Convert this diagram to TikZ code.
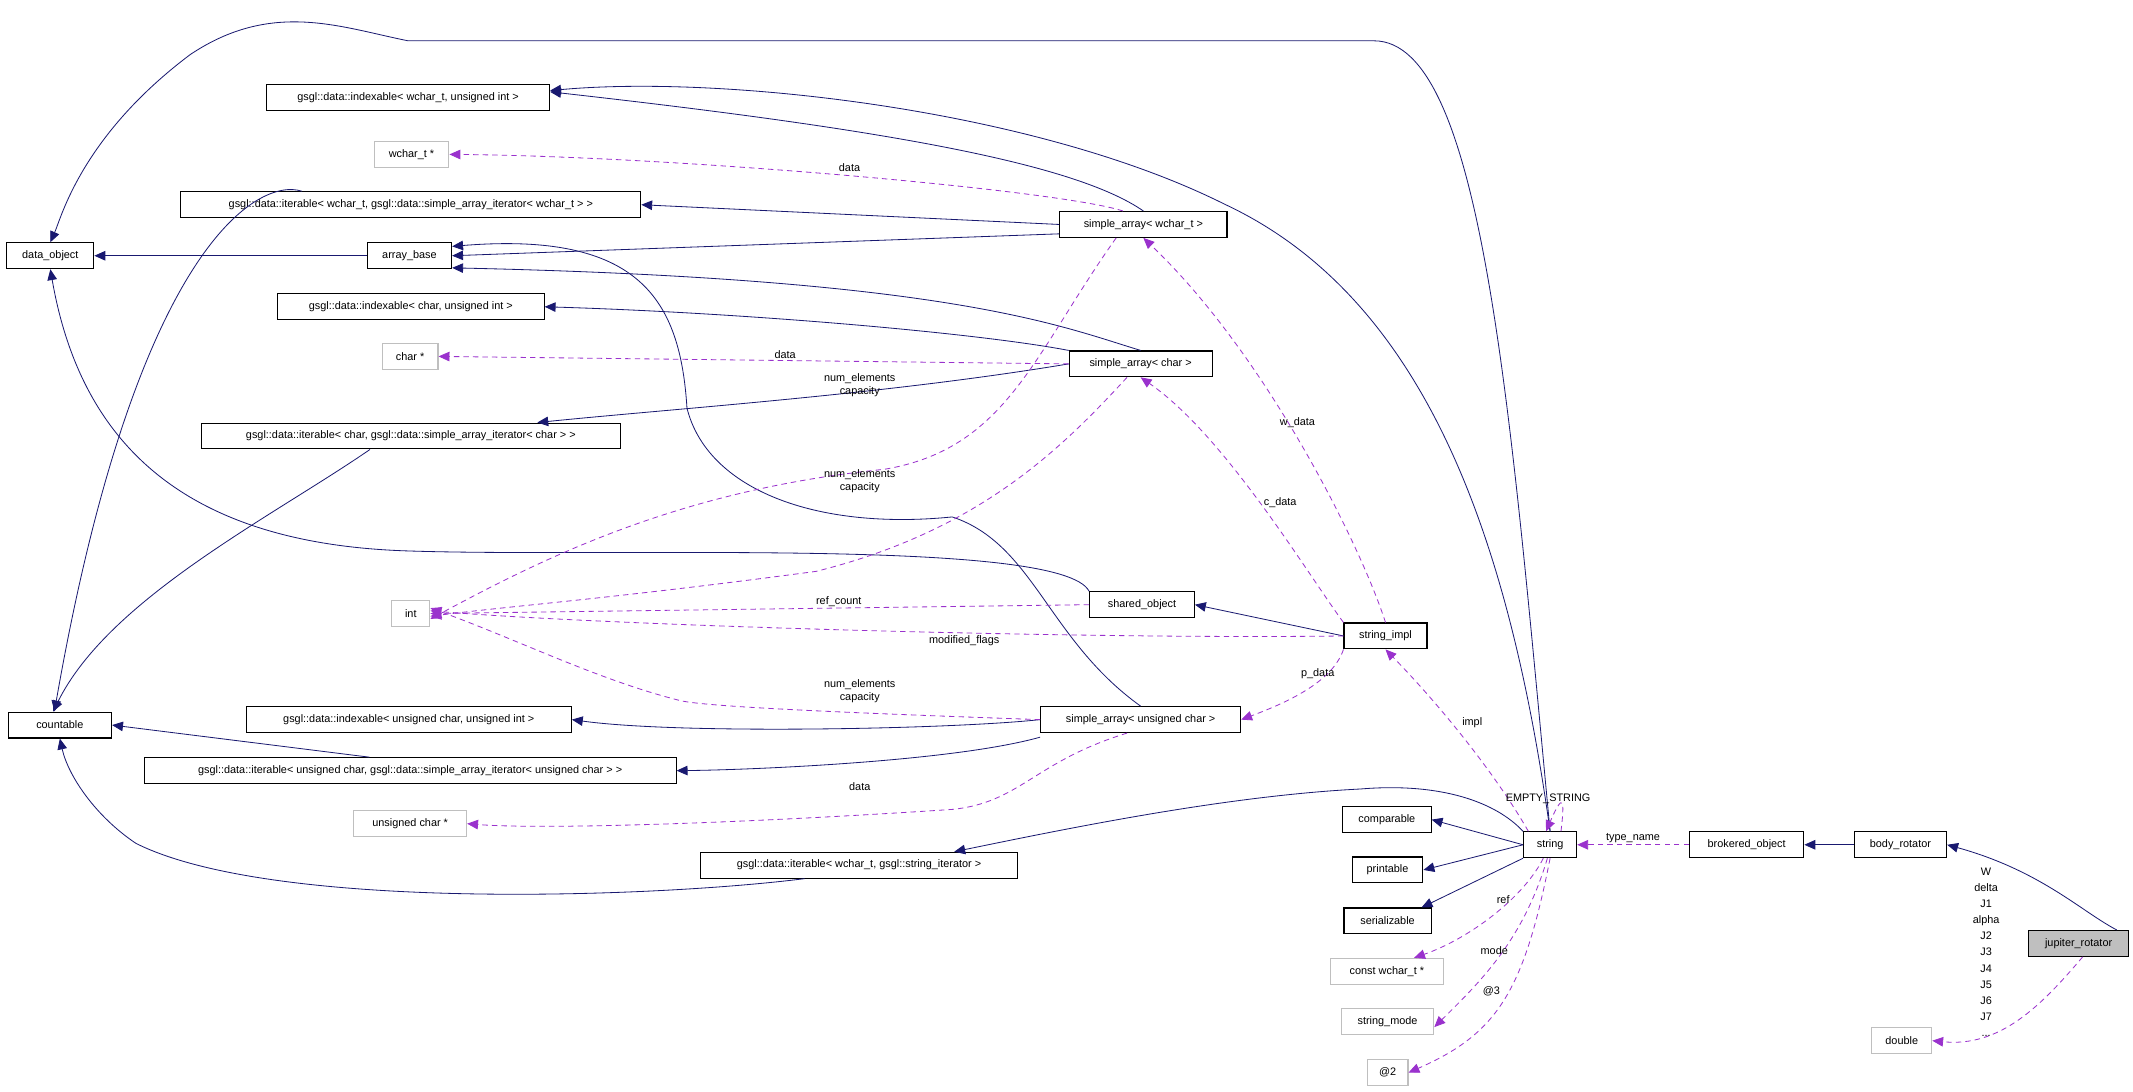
\documentclass[tikz,border=0pt]{standalone}
\usepackage{fontspec}
\setmainfont{Liberation Sans}
\usetikzlibrary{arrows.meta}
\definecolor{eblue}{HTML}{191970}
\definecolor{epurp}{HTML}{9A32CD}
\definecolor{gbord}{HTML}{BFBFBF}
\begin{document}
\begin{tikzpicture}[x=1pt,y=-1pt,
  B/.style={draw=black,thick,minimum height=19pt,inner sep=1pt,font=\fontsize{8}{9}\selectfont},
  G/.style={draw=gbord,thick,minimum height=19pt,inner sep=1pt,font=\fontsize{8}{9}\selectfont},
  inh/.style={eblue,semithick,-{Triangle[length=8pt,width=7pt]}},
  use/.style={epurp,semithick,dashed,dash pattern=on 4pt off 3pt,-{Triangle[length=8pt,width=7pt]}},
  lab/.style={font=\fontsize{8}{9.6}\selectfont,align=center,inner sep=0pt,text=black}]
\useasboundingbox (0,0) rectangle (1568,802.7);
\fill[white] (0,0) rectangle (1568,802.7);
% nodes
\node[B,minimum width=208] (idxw) at (300,71.5) {gsgl::data::indexable< wchar\_t, unsigned int >};
\node[G,minimum width=55] (wcp) at (302.5,113.5) {wchar\_t *};
\node[B,minimum width=338] (itw) at (302,150.5) {gsgl::data::iterable< wchar\_t, gsgl::data::simple\_array\_iterator< wchar\_t > >};
\node[B,minimum width=64] (dobj) at (37,188) {data\_object};
\node[B,minimum width=62] (ab) at (301,188) {array\_base};
\node[B,minimum width=196] (idxc) at (302,225.5) {gsgl::data::indexable< char, unsigned int >};
\node[G,minimum width=41] (cp) at (301.5,262) {char *};
\node[B,minimum width=308] (itc) at (302,320.5) {gsgl::data::iterable< char, gsgl::data::simple\_array\_iterator< char > >};
\node[B,minimum width=123] (saw) at (840.5,165) {simple\_array< wchar\_t >};
\node[B,minimum width=105] (sac) at (838.5,267.5) {simple\_array< char >};
\node[G,minimum width=28] (int) at (302,451) {int};
\node[B,minimum width=77] (so) at (839.5,444.5) {shared\_object};
\node[B,minimum width=61] (si) at (1018.5,467.5) {string\_impl};
\node[B,minimum width=76] (cnt) at (44,533) {countable};
\node[B,minimum width=239] (idxu) at (300.5,529) {gsgl::data::indexable< unsigned char, unsigned int >};
\node[B,minimum width=147] (sau) at (838.5,529) {simple\_array< unsigned char >};
\node[B,minimum width=391] (itu) at (301.5,566.5) {gsgl::data::iterable< unsigned char, gsgl::data::simple\_array\_iterator< unsigned char > >};
\node[G,minimum width=83] (ucp) at (301.5,605.5) {unsigned char *};
\node[B,minimum width=233] (its) at (631.5,636) {gsgl::data::iterable< wchar\_t, gsgl::string\_iterator >};
\node[B,minimum width=39] (str) at (1139.5,621) {string};
\node[B,minimum width=65] (cmp) at (1019.5,602.5) {comparable};
\node[B,minimum width=52] (prn) at (1020,639.5) {printable};
\node[B,minimum width=64] (ser) at (1020,677) {serializable};
\node[G,minimum width=83] (cwc) at (1019.5,714) {const wchar\_t *};
\node[G,minimum width=68] (sm) at (1020,751) {string\_mode};
\node[G,minimum width=30] (at2) at (1020,788.5) {@2};
\node[B,minimum width=84] (bo) at (1284,621) {brokered\_object};
\node[B,minimum width=68] (br) at (1397,621) {body\_rotator};
\node[B,minimum width=74,fill=gbord] (jr) at (1528,693.5) {jupiter\_rotator};
\node[G,minimum width=44] (dbl) at (1398,765) {double};
% inheritance / solid
\draw[inh] (ab) -- (dobj);
\draw[inh] (so.north west) .. controls (780,395) and (450,410) .. (300,405) .. controls (140,400) and (60,330) .. (dobj.south);
\draw[inh] (str.north) .. controls (1110,300) and (1090,30) .. (1010,30) -- (300,30) .. controls (250,20) and (200,0) .. (140,40) .. controls (60,100) and (45,160) .. (dobj.north);
\draw[inh] (str.north) .. controls (1110,400) and (1050,220) .. (900,150) .. controls (760,80) and (530,55) .. ([yshift=-5pt]idxw.north east);
\draw[inh] (saw.north) .. controls (790,120) and (650,95) .. ([yshift=4pt]idxw.east);
\draw[inh] (saw.west) -- (itw.east);
\draw[inh] ([yshift=3pt]saw.south west) -- (ab.east);
\draw[inh] (sac.north) .. controls (780,240) and (700,205) .. ([yshift=1pt]ab.south east) ;
\draw[inh] (sac.north west) .. controls (720,245) and (550,230) .. (idxc.east);
\draw[inh] (sac.west) .. controls (650,290) and (500,300) .. ([xshift=93pt]itc.north);
\draw[inh] (sau.north) .. controls (770,470) and (760,400) .. (700,380) .. controls (600,390) and (520,360) .. (505,300) .. controls (500,220) and (470,170) .. ([yshift=-3pt]ab.north east);
\draw[inh] (sau.west) .. controls (700,536) and (500,540) .. (idxu.east);
\draw[inh] ([yshift=-3pt]sau.south west) .. controls (700,560) and (550,566) .. (itu.east);
\draw[inh] ([xshift=-80pt]itw.north) .. controls (190,130) and (100,180) .. (40,523);
\draw[inh] ([xshift=-30pt]itc.south) .. controls (200,380) and (80,440) .. ([xshift=-5pt]cnt.north);
\draw[inh] ([xshift=-30pt]itu.north) -- (cnt.east);
\draw[inh] ([xshift=-40pt]its.south) .. controls (480,660) and (200,670) .. (100,620) .. controls (70,600) and (50,570) .. (cnt.south);
\draw[inh] (si.west) -- (so.east);
\draw[inh] (str.north west) .. controls (1100,590) and (1060,575) .. (1000,580) .. controls (900,585) and (780,610) .. ([xshift=70pt]its.north);
\draw[inh] (str.west) -- (cmp.east);
\draw[inh] (str.west) -- (prn.east);
\draw[inh] (str.south west) -- ([xshift=25pt]ser.north);
\draw[inh] (br.west) -- (bo.east);
\draw[inh] ([xshift=28pt]jr.north) .. controls (1530,670) and (1500,640) .. (br.east);
% usage / dashed
\draw[use] ([xshift=-15pt]saw.north) .. controls (780,140) and (500,115) .. (wcp.east) node[lab,pos=0.5,above=3pt] {data};
\draw[use] (sac.west) -- (cp.east) node[lab,pos=0.45,above=1pt] {data};
\node[lab] at (632,283) {num\_elements\\capacity};
\draw[use] ([xshift=-20pt]saw.south) .. controls (760,260) and (740,330) .. (650,345) .. controls (500,360) and (400,410) .. ([yshift=-4pt]int.east);
\node[lab] at (632,354) {num\_elements\\capacity};
\draw[use] ([xshift=-10pt]sac.south) .. controls (780,330) and (720,390) .. (600,420) .. controls (450,440) and (380,445) .. ([yshift=-2pt]int.east);
\draw[use] (so.west) -- (int.east) node[lab,pos=0.38,above=1pt] {ref\_count};
\draw[use] (si.west) .. controls (800,470) and (450,460) .. ([yshift=2pt]int.east) node[lab,pos=0.4,below=2pt] {modified\_flags};
\draw[use] (sau.west) .. controls (650,525) and (520,520) .. (500,515) .. controls (440,500) and (380,470) .. ([yshift=4pt]int.east);
\node[lab] at (632,508) {num\_elements\\capacity};
\draw[use] ([xshift=-10pt]sau.south) .. controls (760,560) and (750,590) .. (700,595) .. controls (550,605) and (400,610) .. (ucp.east);
\node[lab] at (632,578) {data};
\draw[use] (si.north) .. controls (1000,400) and (930,260) .. (saw.south) node[lab,pos=0.55,right=-6pt] {w\_data};
\draw[use] (si.north west) .. controls (960,420) and (900,320) .. (sac.south) node[lab,pos=0.5,right=3pt] {c\_data};
\draw[use] (si.south west) .. controls (980,500) and (950,515) .. (sau.east) node[lab,pos=0.4,above=2pt] {p\_data};
\draw[use] ([xshift=-16pt]str.north) .. controls (1100,570) and (1060,520) .. (si.south) node[lab,pos=0.6,right=8pt] {impl};
\draw[use] ([xshift=8pt]str.north) .. controls (1150,590) and (1150,580) .. ([xshift=-3pt]str.north);
\node[lab] at (1138,587) {EMPTY\_STRING};
\draw[use] (bo.west) -- (str.east) node[lab,pos=0.5,above=1pt] {type\_name};
\draw[use] ([xshift=-5pt]str.south) .. controls (1120,660) and (1080,690) .. ([xshift=20pt]cwc.north) node[lab,pos=0.35,left=1pt] {ref};
\draw[use] ([xshift=-2pt]str.south) .. controls (1120,690) and (1090,720) .. ([yshift=-4pt]sm.east) node[lab,pos=0.55,above=6pt] {mode};
\draw[use] (str.south) .. controls (1120,730) and (1100,760) .. (at2.east) node[lab,pos=0.45,left=6pt] {@3};
\draw[use] ([xshift=3pt]jr.south) .. controls (1500,740) and (1470,770) .. (dbl.east);
\node[lab,font=\fontsize{8}{11.8}\selectfont] at (1460,700) {W\\delta\\J1\\alpha\\J2\\J3\\J4\\J5\\J6\\J7\\...};
\end{tikzpicture}
\end{document}
